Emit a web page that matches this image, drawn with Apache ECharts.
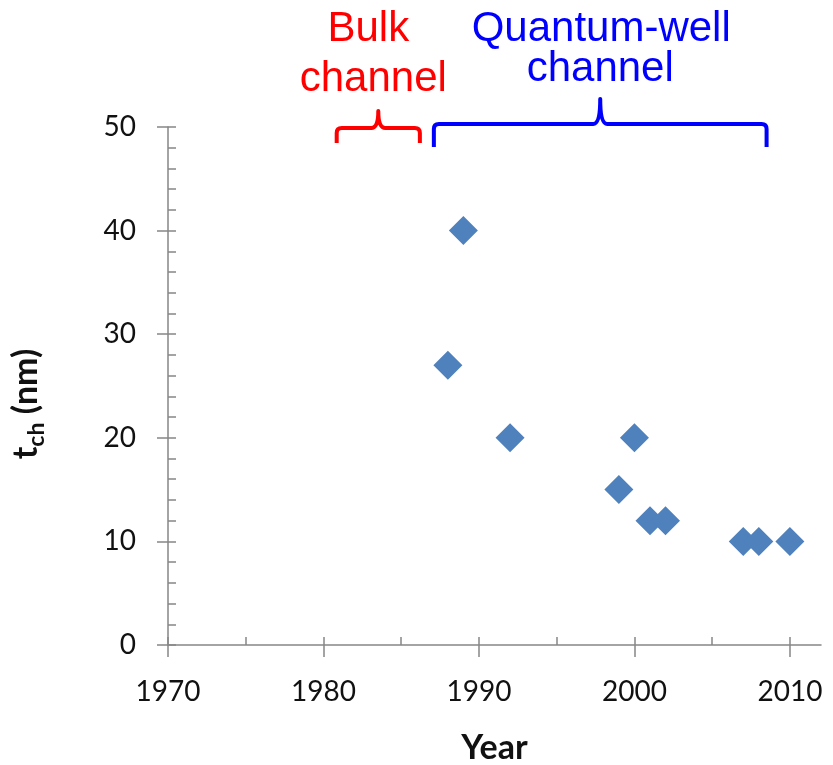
<!DOCTYPE html>
<html><head><meta charset="utf-8">
<script src="https://cdn.jsdelivr.net/npm/echarts@6/dist/echarts.min.js"></script>
<style>html,body{margin:0;padding:0;background:#fff}#c{width:833px;height:765px}</style>
</head><body><div id="c"></div>
<script>
// ---- data ----
const years = [1988, 1989, 1992, 1999, 2000, 2001, 2002, 2007, 2008, 2010];
const tch   = [27,   40,   20,   15,   20,   12,   12,   10,   10,   10];
const xTickLabels = [1970, 1980, 1990, 2000, 2010];
const yTickLabels = [0, 10, 20, 30, 40, 50];
const bracketStart = [1980.85, 1987.1];
const bracketEnd   = [1986.2, 2008.5];
const bracketColor = ['#FF0000', '#0000FF'];
const bulkText  = ['Bulk', 'channel'];
const qwText    = ['Quantum-well', 'channel'];

const AX = '#868686';
const chart = echarts.init(document.getElementById('c'), null, {renderer: 'canvas'});
const lbl = {fontFamily: 'Lato', fontSize: 28, color: '#111'};
const gridW = 833 - 168 - 12;
const perYear = gridW / 42;

// bracket geometry offsets (px relative to top of plot)
const bGeom = [{h: 1, e: 16, p: -16}, {h: -3, e: 20, p: -28}];

function renderBracket(params, api) {
  const i = params.dataIndex;
  const a = api.coord([api.value(0), 50]);
  const b = api.coord([api.value(1), 50]);
  const g = bGeom[i];
  const x0 = a[0], x1 = b[0], xm = (x0 + x1) / 2, top = a[1];
  const yH = top + g.h, yE = top + g.e, yP = top + g.p;
  const r = 5, r2 = 7;
  const d = `M${x0},${yE} L${x0},${yH + r} Q${x0},${yH} ${x0 + r},${yH} L${xm - r2},${yH} Q${xm},${yH} ${xm},${yP} Q${xm},${yH} ${xm + r2},${yH} L${x1 - r},${yH} Q${x1},${yH} ${x1},${yH + r} L${x1},${yE}`;
  return {type: 'path', shape: {pathData: d},
          style: {fill: 'none', stroke: bracketColor[i], lineWidth: 4, lineJoin: 'round'}};
}

chart.setOption({
  animation: false,
  backgroundColor: '#fff',
  grid: [
    {left: 168, right: 12, top: 127, bottom: 120, containLabel: false, outerBoundsMode: 'none'},
    {left: 168, width: perYear * 40, top: 127, bottom: 120, containLabel: false, outerBoundsMode: 'none'}
  ],
  xAxis: [
    {gridIndex: 0, type: 'value', min: 1970, max: 2012, interval: 10,
     axisLine: {lineStyle: {color: AX, width: 1.5}},
     axisTick: {show: false}, splitLine: {show: false},
     axisLabel: Object.assign({margin: 33, showMaxLabel: false,
        formatter: v => xTickLabels.includes(v) ? String(v) : ''}, lbl),
     name: 'Year', nameLocation: 'middle', nameGap: 86,
     nameTextStyle: {fontFamily: 'Lato', fontWeight: 'bold', fontSize: 34, color: '#111'}},
    {gridIndex: 1, type: 'value', min: 1970, max: 2010, interval: 10, position: 'bottom',
     axisLine: {show: false}, axisLabel: {show: false}, splitLine: {show: false},
     axisTick: {inside: true, length: 8, lineStyle: {color: AX, width: 1.5}},
     minorTick: {show: true, splitNumber: 2, length: 8, lineStyle: {color: AX, width: 1.5}}},
    {gridIndex: 1, type: 'value', min: 1970, max: 2010, interval: 10, position: 'bottom',
     axisLine: {show: false}, axisLabel: {show: false}, splitLine: {show: false},
     axisTick: {inside: false, length: 12, lineStyle: {color: AX, width: 1.5}}}
  ],
  yAxis: [
    {gridIndex: 0, type: 'value', min: 0, max: 50, interval: 10, position: 'left',
     axisLine: {show: true, onZero: false, lineStyle: {color: AX, width: 1.5}},
     axisTick: {inside: false, length: 11, lineStyle: {color: AX, width: 1.5}},
     splitLine: {show: false},
     axisLabel: Object.assign({margin: 32,
        formatter: v => yTickLabels.includes(v) ? String(v) : ''}, lbl),
     name: '{t|t}{s|ch}{t| (nm)}', nameLocation: 'middle', nameRotate: 90, nameGap: 120,
     nameTextStyle: {padding: [0, 36, 0, 0], rich: {
        t: {fontFamily: 'Lato', fontWeight: 'bold', fontSize: 34, color: '#111', lineHeight: 44},
        s: {fontFamily: 'Lato', fontWeight: 'bold', fontSize: 23, color: '#111', verticalAlign: 'bottom', lineHeight: 44}
     }}},
    {gridIndex: 0, type: 'value', min: 0, max: 50, interval: 10, position: 'left',
     axisLine: {show: false}, axisLabel: {show: false}, splitLine: {show: false},
     axisTick: {inside: true, length: 8, lineStyle: {color: AX, width: 1.5}},
     minorTick: {show: true, splitNumber: 5, length: 8, lineStyle: {color: AX, width: 1.5}}},
    {gridIndex: 1, type: 'value', min: 0, max: 50, show: false}
  ],
  series: [{
    type: 'scatter', xAxisIndex: 0, yAxisIndex: 0,
    symbol: 'diamond', symbolSize: 29,
    itemStyle: {color: '#4F81BD', opacity: 1},
    emphasis: {disabled: true},
    data: years.map((y, i) => [y, tch[i]])
  }, {
    type: 'custom', xAxisIndex: 0, yAxisIndex: 0, clip: false, silent: true,
    renderItem: renderBracket,
    encode: {x: [0, 1]},
    data: bracketStart.map((s, i) => [s, bracketEnd[i]]),
    z: 10
  }]
});

const xmOf = i => (chart.convertToPixel({xAxisIndex: 0}, bracketStart[i]) + chart.convertToPixel({xAxisIndex: 0}, bracketEnd[i])) / 2;
const rm = xmOf(0), bm = xmOf(1);
const txt = (s, x, y, color) => ({type: 'text', x: x, y: y, z: 10,
  style: {text: s, fill: color, font: '42px "Liberation Sans", Arial, sans-serif', textAlign: 'center', textVerticalAlign: 'middle'}});
chart.setOption({graphic: [
  txt(bulkText[0], rm - 10, 29, bracketColor[0]),
  txt(bulkText[1], rm - 5, 79, bracketColor[0]),
  txt(qwText[0], bm + 1, 29, bracketColor[1]),
  txt(qwText[1], bm, 69, bracketColor[1])
]});
</script></body></html>
